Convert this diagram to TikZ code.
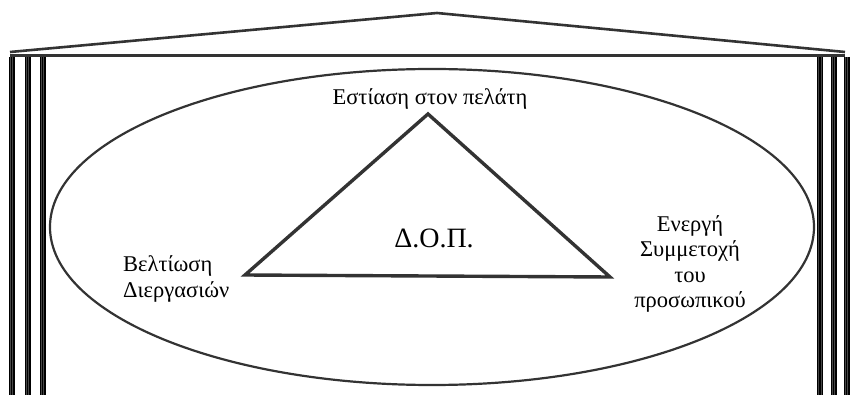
\documentclass[tikz,border=0pt]{standalone}
\usepackage{fontspec}
\setmainfont{Liberation Serif}
\usetikzlibrary{positioning, calc}

\definecolor{ink}{HTML}{333333}
\definecolor{shade}{HTML}{B4B4B4}

\begin{document}
\begin{tikzpicture}[x=1pt,y=-1pt,
    roofline/.style={ink, line width=2.6pt, line join=round},
    label/.style={font=\fontsize{22.5}{25.5}\selectfont, align=center, inner sep=0pt}]
        \useasboundingbox (0,0) rectangle (851,395);

        % Roof
        \coordinate (roofL) at (10,52);
        \coordinate (apex) at (437,13);
        \coordinate (roofR) at (845,52);
        \draw[roofline] (roofL) -- (apex) -- (roofR);
        \draw[roofline] (10,55.5) -- (845,55.5);

        % Pillars
        \foreach \x in {11.5, 27.5, 42.5, 820, 833.5, 846.5} {
            \draw[shade, line width=6pt] (\x,57) -- (\x,396);
            \draw[ink!90, line width=0.8pt] (\x-1.3,57) -- (\x-1.3,396);
            \draw[ink!90, line width=0.8pt] (\x+1.3,57) -- (\x+1.3,396);
        }

        % Ellipse
        \draw[ink, line width=2.2pt] (432,227) ellipse [x radius=382, y radius=158];

        % Triangle
        \coordinate (top) at (428,114);
        \coordinate (left) at (245,275);
        \coordinate (right) at (610,277);
        \draw[ink, line width=3.4pt, line join=miter] (top) -- (left) -- (right) -- cycle;

        % Labels
        \node[label] (customer) at (430,99) {Εστίαση στον πελάτη};
        \node[label, font=\fontsize{28}{25}\selectfont] (tqm) at (434,238) {Δ.Ο.Π.};
        \node[label, align=left, anchor=west] (process) at (123,279) {Βελτίωση\\Διεργασιών};
        \node[label] (staff) at (690,264) {Ενεργή\\Συμμετοχή\\του\\προσωπικού};

\end{tikzpicture}
\end{document}
